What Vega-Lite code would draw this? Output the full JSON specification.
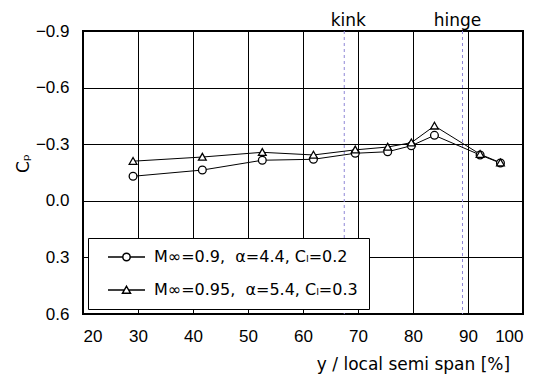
{
  "$schema": "https://vega.github.io/schema/vega-lite/v6.json",
  "width": 440,
  "height": 283,
  "autosize": {"type": "none"},
  "padding": {"left": 83, "top": 31, "right": 21, "bottom": 60},
  "background": "white",
  "config": {
    "view": {"stroke": "black", "strokeWidth": 2},
    "font": "DejaVu Sans",
    "axis": {
      "grid": true, "gridColor": "black", "gridOpacity": 1, "gridWidth": 1,
      "domain": false, "ticks": false,
      "labelFont": "Liberation Sans", "labelFontSize": 17, "labelColor": "black",
      "titleFont": "DejaVu Sans", "titleFontSize": 17, "titleColor": "black", "titleFontWeight": "normal"
    }
  },
  "layer": [
    {
      "data": {"values": [{"name": "kink", "pos": 67.5}, {"name": "hinge", "pos": 89}]},
      "mark": {"type": "rule", "color": "#8f86d6", "strokeDash": [3, 3], "strokeWidth": 1},
      "encoding": {"x": {"field": "pos", "type": "quantitative", "scale": {"domain": [20, 100], "nice": false, "zero": false}}}
    },
    {
      "data": {"values": [{"name": "kink", "pos": 67.5}]},
      "mark": {"type": "text", "dx": 4, "dy": -5, "baseline": "alphabetic", "align": "center", "fontSize": 17, "color": "black", "font": "DejaVu Sans"},
      "encoding": {"x": {"field": "pos", "type": "quantitative"}, "y": {"datum": -0.9, "type": "quantitative"}, "text": {"field": "name"}}
    },
    {
      "data": {"values": [{"name": "hinge", "pos": 89}]},
      "mark": {"type": "text", "dx": -5, "dy": -5, "baseline": "alphabetic", "align": "center", "fontSize": 17, "color": "black", "font": "DejaVu Sans"},
      "encoding": {"x": {"field": "pos", "type": "quantitative"}, "y": {"datum": -0.9, "type": "quantitative"}, "text": {"field": "name"}}
    },
    {
      "data": {"name": "cp"},
      "encoding": {
        "x": {
          "field": "x", "type": "quantitative",
          "scale": {"domain": [20, 100], "nice": false, "zero": false},
          "axis": {"values": [20, 30, 40, 50, 60, 70, 80, 90, 100], "labelPadding": 14, "title": "y / local semi span [%]", "titleX": 330, "titleY": 55, "titleBaseline": "alphabetic"}
        },
        "y": {
          "field": "cp", "type": "quantitative",
          "scale": {"domain": [-0.9, 0.6], "reverse": true, "nice": false, "zero": false},
          "axis": {"values": [-0.9, -0.6, -0.3, 0, 0.3, 0.6], "format": ".1f", "labelPadding": 14, "title": "Cₚ", "titleX": -60, "titleY": 132, "titleAlign": "center", "titleBaseline": "middle"}
        }
      },
      "layer": [
        {
          "mark": {"type": "line", "color": "black", "strokeWidth": 1},
          "encoding": {"detail": {"field": "series", "type": "nominal"}}
        },
        {
          "mark": {"type": "point", "filled": true, "fill": "white", "stroke": "black", "strokeWidth": 1.3, "size": 60, "opacity": 1},
          "encoding": {
            "shape": {"condition": {"test": "indexof(datum.series, '0.95') < 0", "value": "circle"}, "value": "M0,-0.95L1,0.8L-1,0.8Z"}
          }
        },
        {
          "mark": {"type": "point", "filled": true, "fill": "white", "stroke": "black", "strokeWidth": 1.2, "size": 0, "opacity": 1},
          "encoding": {
            "shape": {
              "field": "series", "type": "nominal",
              "scale": {
                "domain": ["M∞=0.9,\u00a0 α=4.4, Cₗ=0.2\u00a0\u00a0\u00a0", "M∞=0.95,\u00a0 α=5.4, Cₗ=0.3\u00a0\u00a0\u00a0"],
                "range": [
                  "M-3.7,0L-0.74,0M0.74,0L3.7,0M0.74,0A0.74,0.74,0,1,1,-0.74,0A0.74,0.74,0,1,1,0.74,0Z",
                  "M-3.7,0L-0.43,0M0.43,0L3.7,0M0,-0.75L0.8,0.65L-0.8,0.65Z"
                ]
              },
              "legend": {
                "orient": "none", "legendX": 5, "legendY": 207, "title": null,
                "strokeColor": "black", "fillColor": "white", "padding": 11, "rowPadding": 17,
                "symbolOffset": 19.5, "labelOffset": 19.5,
                "labelFont": "DejaVu Sans", "labelFontSize": 16, "labelColor": "black", "labelLimit": 400
              }
            }
          }
        }
      ]
    }
  ],
  "datasets": {
    "cp": [
      {"x": 29.1, "cp": -0.13, "series": "M∞=0.9,\u00a0 α=4.4, Cₗ=0.2\u00a0\u00a0\u00a0"},
      {"x": 41.7, "cp": -0.163, "series": "M∞=0.9,\u00a0 α=4.4, Cₗ=0.2\u00a0\u00a0\u00a0"},
      {"x": 52.6, "cp": -0.215, "series": "M∞=0.9,\u00a0 α=4.4, Cₗ=0.2\u00a0\u00a0\u00a0"},
      {"x": 61.9, "cp": -0.22, "series": "M∞=0.9,\u00a0 α=4.4, Cₗ=0.2\u00a0\u00a0\u00a0"},
      {"x": 69.5, "cp": -0.252, "series": "M∞=0.9,\u00a0 α=4.4, Cₗ=0.2\u00a0\u00a0\u00a0"},
      {"x": 75.4, "cp": -0.26, "series": "M∞=0.9,\u00a0 α=4.4, Cₗ=0.2\u00a0\u00a0\u00a0"},
      {"x": 79.7, "cp": -0.292, "series": "M∞=0.9,\u00a0 α=4.4, Cₗ=0.2\u00a0\u00a0\u00a0"},
      {"x": 83.9, "cp": -0.347, "series": "M∞=0.9,\u00a0 α=4.4, Cₗ=0.2\u00a0\u00a0\u00a0"},
      {"x": 92.2, "cp": -0.243, "series": "M∞=0.9,\u00a0 α=4.4, Cₗ=0.2\u00a0\u00a0\u00a0"},
      {"x": 95.9, "cp": -0.2, "series": "M∞=0.9,\u00a0 α=4.4, Cₗ=0.2\u00a0\u00a0\u00a0"},
      {"x": 29.1, "cp": -0.21, "series": "M∞=0.95,\u00a0 α=5.4, Cₗ=0.3\u00a0\u00a0\u00a0"},
      {"x": 41.7, "cp": -0.232, "series": "M∞=0.95,\u00a0 α=5.4, Cₗ=0.3\u00a0\u00a0\u00a0"},
      {"x": 52.6, "cp": -0.257, "series": "M∞=0.95,\u00a0 α=5.4, Cₗ=0.3\u00a0\u00a0\u00a0"},
      {"x": 61.9, "cp": -0.243, "series": "M∞=0.95,\u00a0 α=5.4, Cₗ=0.3\u00a0\u00a0\u00a0"},
      {"x": 69.5, "cp": -0.27, "series": "M∞=0.95,\u00a0 α=5.4, Cₗ=0.3\u00a0\u00a0\u00a0"},
      {"x": 75.4, "cp": -0.285, "series": "M∞=0.95,\u00a0 α=5.4, Cₗ=0.3\u00a0\u00a0\u00a0"},
      {"x": 79.7, "cp": -0.308, "series": "M∞=0.95,\u00a0 α=5.4, Cₗ=0.3\u00a0\u00a0\u00a0"},
      {"x": 83.9, "cp": -0.397, "series": "M∞=0.95,\u00a0 α=5.4, Cₗ=0.3\u00a0\u00a0\u00a0"},
      {"x": 92.2, "cp": -0.247, "series": "M∞=0.95,\u00a0 α=5.4, Cₗ=0.3\u00a0\u00a0\u00a0"},
      {"x": 95.9, "cp": -0.202, "series": "M∞=0.95,\u00a0 α=5.4, Cₗ=0.3\u00a0\u00a0\u00a0"}
    ]
  }
}
